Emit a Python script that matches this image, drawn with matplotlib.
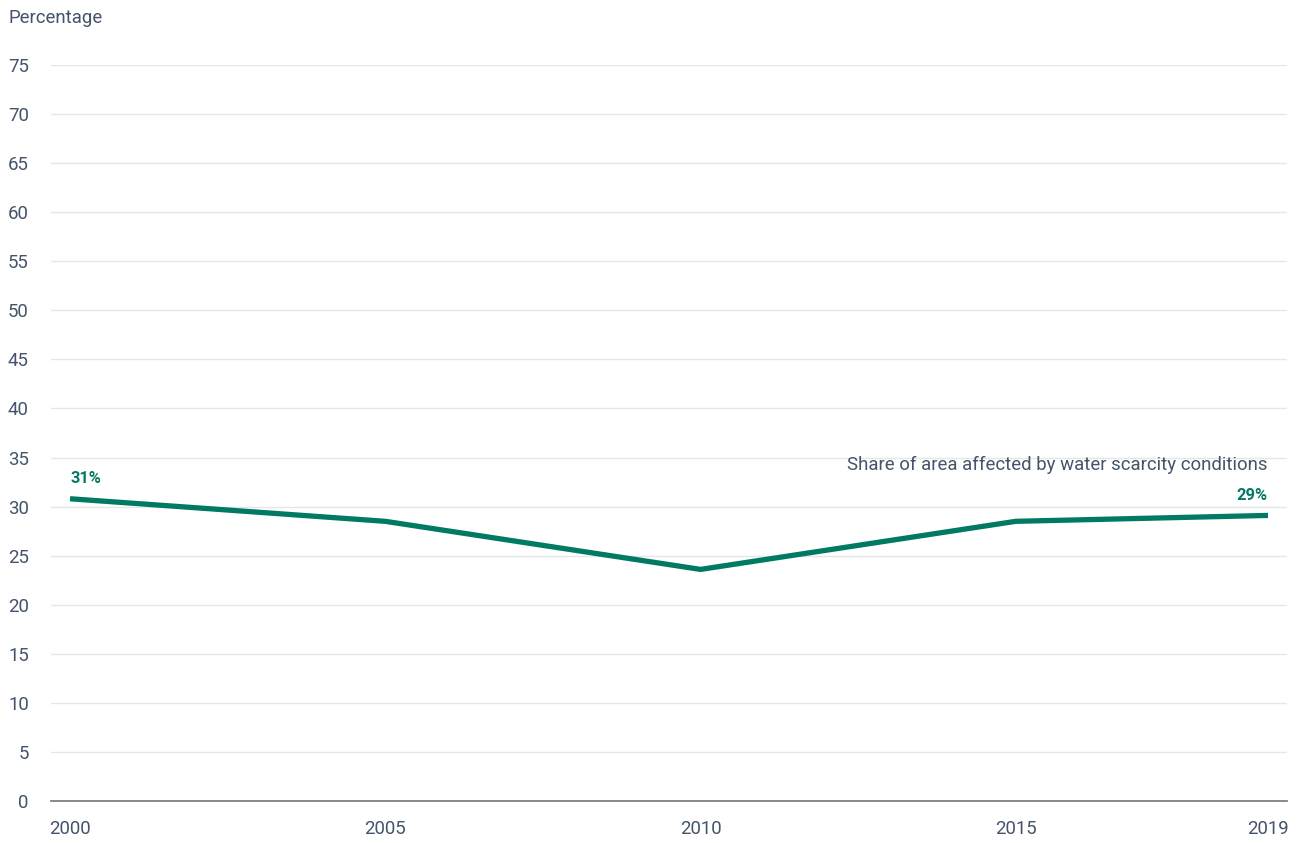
import matplotlib
matplotlib.use("Agg")
from matplotlib import pyplot as plt

years = [2000, 2005, 2010, 2015, 2019]
share = [30.8, 28.5, 23.6, 28.5, 29.1]
x_ticks = [2000, 2005, 2010, 2015, 2019]
y_ticks = list(range(0, 80, 5))

TEXT = '#44546a'
LINE = '#007a63'

plt.rcParams['font.family'] = ['Roboto', 'DejaVu Sans']

fig = plt.figure(figsize=(12.99, 8.43), dpi=100)
ax = fig.add_axes([51 / 1299, 1 - 801 / 843, (1287 - 51) / 1299, (801 - 65) / 843])

ax.plot(years, share, color=LINE, lw=3.8, solid_capstyle='butt', solid_joinstyle='miter', zorder=3)

ax.set_xlim(2000 - 19 / 63, 2019 + 19 / 63)
ax.set_ylim(0, 75)
ax.set_xticks(x_ticks)
ax.set_yticks(y_ticks)
ax.tick_params(axis='both', length=0, labelsize=13.4, labelcolor=TEXT)
ax.tick_params(axis='y', pad=16)
ax.tick_params(axis='x', pad=14)
ax.grid(axis='y', color='#e6e6e6', lw=1)
ax.set_axisbelow(True)
for s in ['top', 'right', 'left']:
    ax.spines[s].set_visible(False)
ax.spines['bottom'].set_color('#808080')
ax.spines['bottom'].set_linewidth(1.3)
ax.spines['bottom'].set_zorder(4)

fig.text(8 / 1299, 1 - 18 / 843, 'Percentage', color=TEXT, fontsize=13.4, ha='left', va='center')

# value labels
ax.annotate('31%', (years[0], share[0]), xytext=(0, 9), textcoords='offset points',
            ha='left', va='bottom', color=LINE, fontsize=11.8, fontweight='bold')
ax.annotate('29%', (years[-1], share[-1]), xytext=(0, 9), textcoords='offset points',
            ha='right', va='bottom', color=LINE, fontsize=11.8, fontweight='bold')
ax.annotate('Share of area affected by water scarcity conditions', (years[-1], share[-1]),
            xytext=(0, 30), textcoords='offset points',
            ha='right', va='bottom', color=TEXT, fontsize=13.4)

fig.savefig('out.png', dpi=100, facecolor='white')
